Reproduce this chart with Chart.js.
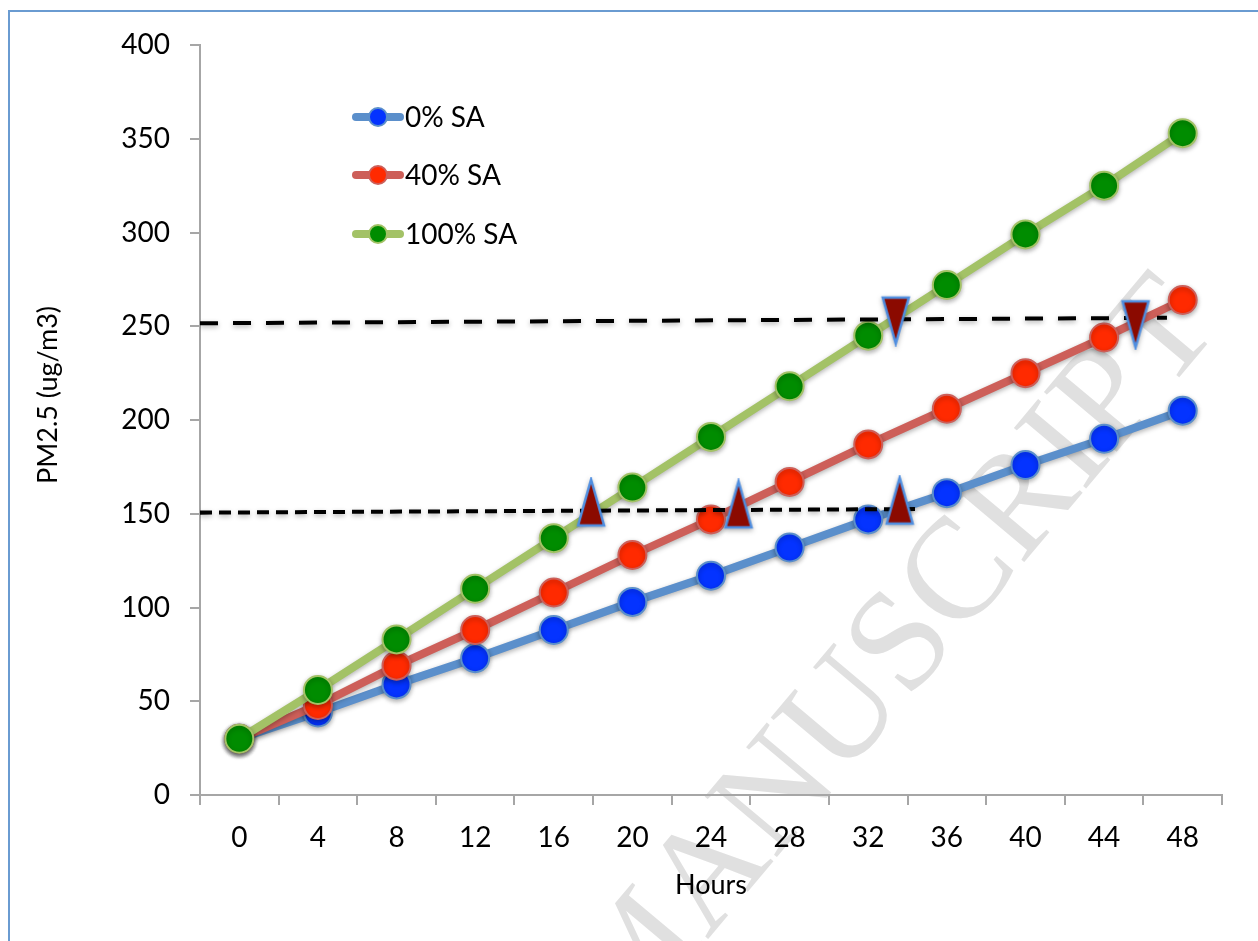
<!DOCTYPE html>
<html>
<head>
<meta charset="utf-8">
<script src="https://cdn.jsdelivr.net/npm/chart.js@4.4.1/dist/chart.umd.min.js"></script>
<style>
  html, body { margin: 0; padding: 0; background: #fff; }
  #wrap { width: 1258px; height: 941px; position: relative; }
</style>
</head>
<body>
<div id="wrap"><canvas id="pmChart"></canvas></div>
<script>
// Data
const hours = ['0', '4', '8', '12', '16', '20', '24', '28', '32', '36', '40', '44', '48'];
const sa0 = [30, 44, 59, 73, 88, 103, 117, 132, 147, 161, 176, 190, 205];
const sa40 = [30, 48, 69, 88, 108, 128, 147, 167, 187, 206, 225, 244, 264];
const sa100 = [30, 56, 83, 110, 137, 164, 191, 218, 245, 272, 299, 325, 353];
const seriesNames = ['0% SA', '40% SA', '100% SA'];
const yTitle = 'PM2.5 (ug/m3)';

// threshold lines (x in hours)
const limit250 = [{ x: -2, y: 251.6 }, { x: 47.2, y: 254.5 }];
const limit150 = [{ x: -2, y: 150.6 }, { x: 34.6, y: 152.5 }];
// triangles marking where the series cross the limits
const upMarks = [{ x: 17.9, y: 156 }, { x: 25.4, y: 155 }, { x: 33.6, y: 157 }];
const downMarks = [{ x: 33.4, y: 253 }, { x: 45.6, y: 251 }];

const lineColors = ['#5b8fcb', '#cd5f59', '#a3c266'];
const dotColors = ['#0433ff', '#ff2a00', '#008c00'];

const FONT = 'Lato, "Open Sans", sans-serif';

// elongated triangle marker drawn into a small canvas
function triangle(down) {
    const c = document.createElement('canvas');
    c.width = 32; c.height = 52;
    const g = c.getContext('2d');
    g.beginPath();
    if (down) {
        g.moveTo(3, 3); g.lineTo(29, 3); g.lineTo(16, 49);
    } else {
        g.moveTo(16, 3); g.lineTo(29, 49); g.lineTo(3, 49);
    }
    g.closePath();
    g.fillStyle = '#8b0a00';
    g.fill();
    g.lineWidth = 2.5;
    g.strokeStyle = '#4f8ee0';
    g.stroke();
    return c;
}

// frame + watermark behind everything, soft shadow on the series
const background = {
    id: 'background',
    beforeDraw(chart) {
        const ctx = chart.ctx;
        ctx.save();
        ctx.strokeStyle = '#6a9bd1';
        ctx.lineWidth = 2;
        ctx.beginPath();
        ctx.moveTo(9, 945);
        ctx.lineTo(9, 11);
        ctx.lineTo(1262, 11);
        ctx.stroke();

        ctx.translate(625, 1038);
        ctx.rotate(-50 * Math.PI / 180);
        ctx.font = '144px "Liberation Serif", serif';
        ctx.fillStyle = '#e0e0e0';
        ctx.textBaseline = 'alphabetic';
        ctx.fillText('MANUSCRIPT', 0, 0);
        ctx.restore();
    },
    beforeDatasetsDraw(chart) {
        const ctx = chart.ctx;
        ctx.save();
        ctx.shadowColor = 'rgba(0,0,0,0.3)';
        ctx.shadowBlur = 5;
        ctx.shadowOffsetY = 2;
    },
    afterDatasetsDraw(chart) {
        chart.ctx.restore();
    }
};

// legend inside the plot and the y title, drawn by hand
const floatLegend = {
    id: 'floatLegend',
    afterDraw(chart) {
        const ctx = chart.ctx;
        const rows = [117, 175, 234];
        ctx.save();
        rows.forEach((y, i) => {
            ctx.strokeStyle = lineColors[i];
            ctx.lineWidth = 8;
            ctx.lineCap = 'round';
            ctx.beginPath();
            ctx.moveTo(356, y);
            ctx.lineTo(400, y);
            ctx.stroke();
            ctx.beginPath();
            ctx.arc(378, y, 9, 0, Math.PI * 2);
            ctx.fillStyle = dotColors[i];
            ctx.fill();
            ctx.lineWidth = 2;
            ctx.stroke();
            ctx.fillStyle = '#000';
            ctx.font = '28px ' + FONT;
            ctx.textBaseline = 'middle';
            ctx.fillText(seriesNames[i], 405, y + 1);
        });

        ctx.translate(48, 395);
        ctx.rotate(-Math.PI / 2);
        ctx.font = '27px ' + FONT;
        ctx.textAlign = 'center';
        ctx.textBaseline = 'middle';
        ctx.fillStyle = '#000';
        ctx.fillText(yTitle, 0, 0);
        ctx.restore();
    }
};

function seriesSet(i, data, order) {
    return {
        label: seriesNames[i],
        data: data,
        xAxisID: 'x',
        borderColor: lineColors[i],
        borderWidth: 8,
        pointRadius: 14,
        pointHoverRadius: 14,
        pointBackgroundColor: dotColors[i],
        pointBorderColor: lineColors[i],
        pointBorderWidth: 2,
        tension: 0,
        order: order
    };
}

const axisGray = '#a6a6a6';

new Chart(document.getElementById('pmChart'), {
    type: 'line',
    data: {
        labels: hours,
        datasets: [
            seriesSet(0, sa0, 5),
            seriesSet(1, sa40, 4),
            seriesSet(2, sa100, 3),
            {
                label: 'limit 250', data: limit250, xAxisID: 'x2',
                borderColor: '#000', borderWidth: 4, borderDash: [18, 15],
                pointRadius: 0, order: 2
            },
            {
                label: 'limit 150', data: limit150, xAxisID: 'x2',
                borderColor: '#000', borderWidth: 4, borderDash: [12, 7],
                pointRadius: 0, order: 2
            },
            {
                label: 'up', data: upMarks, xAxisID: 'x2', showLine: false,
                pointStyle: triangle(false), order: 1
            },
            {
                label: 'down', data: downMarks, xAxisID: 'x2', showLine: false,
                pointStyle: triangle(true), order: 1
            }
        ]
    },
    options: {
        responsive: true,
        maintainAspectRatio: false,
        animation: false,
        layout: { padding: { left: 0, top: 45, right: 36, bottom: 0 } },
        plugins: {
            legend: { display: false },
            tooltip: { enabled: false }
        },
        scales: {
            x: {
                type: 'category',
                offset: true,
                grid: { offset: true, drawOnChartArea: false, tickLength: 10, color: axisGray, lineWidth: 2 },
                border: { color: axisGray, width: 2 },
                ticks: { color: '#000', font: { family: FONT, size: 28 }, padding: 16, maxRotation: 0 },
                title: { display: true, text: 'Hours', color: '#000', font: { family: FONT, size: 27 }, padding: { top: 0, bottom: 40 } },
                afterFit(scale) { scale.height = 146; }
            },
            x2: {
                type: 'linear',
                display: false,
                min: -2,
                max: 50
            },
            y: {
                min: 0,
                max: 400,
                ticks: { stepSize: 50, color: '#000', font: { family: FONT, size: 28 }, padding: 20 },
                grid: { drawOnChartArea: false, tickLength: 10, color: axisGray, lineWidth: 2 },
                border: { color: axisGray, width: 2 },
                afterFit(scale) { scale.width = 200; }
            }
        }
    },
    plugins: [background, floatLegend]
});
</script>
</body>
</html>
